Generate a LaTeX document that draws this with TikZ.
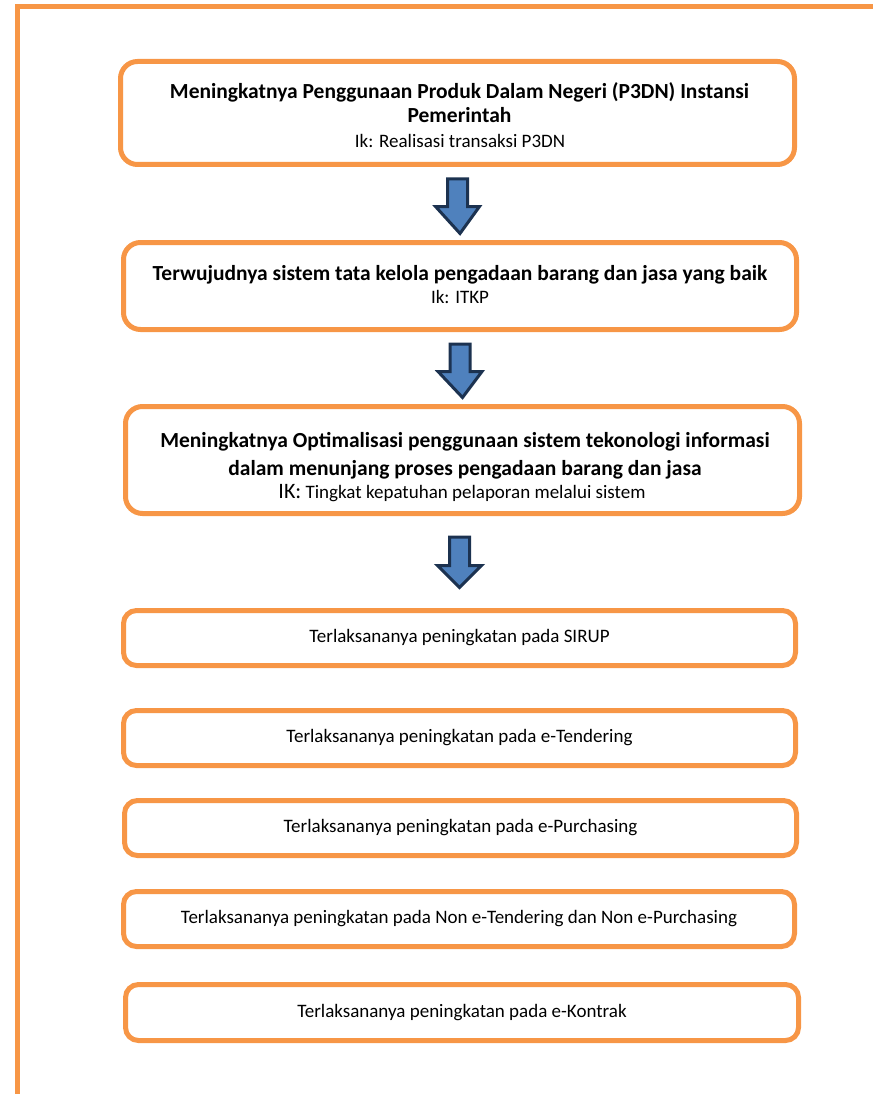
\documentclass[tikz,border=0pt]{standalone}
\usepackage{fontspec}
\setmainfont{Carlito}
\usetikzlibrary{calc}
\definecolor{org}{RGB}{247,150,70}
\definecolor{arrfill}{RGB}{79,129,189}
\definecolor{arrline}{RGB}{28,50,80}
\tikzset{
  box/.style={draw=org, line width=5pt, rounded corners=17pt, outer sep=0pt, inner sep=0pt, fill=white},
  sbox/.style={box, rounded corners=13pt},
  ttl/.style={font=\fontsize{21.5}{24}\selectfont\bfseries, align=center, inner sep=0pt, text=black},
  ik/.style={font=\fontsize{19}{22}\selectfont, inner sep=0pt, text=black},
  stxt/.style={font=\fontsize{19}{22}\selectfont, inner sep=0pt, text=black},
  blockarrow/.style={draw=arrline, fill=arrfill, line width=3pt, line join=miter},
}
\newcommand{\downblock}[2]{%
  \draw[blockarrow] ($(#1.south)+(-10,14.5)$) -- ($(#1.south)+(10,14.5)$) --
    ($(#1.south)+(10,42)$) -- ($(#1.south)+(22,42)$) -- ($(#2.north)+(0,-9)$) --
    ($(#1.south)+(-22,42)$) -- ($(#1.south)+(-10,42)$) -- cycle;}
\begin{document}
\begin{tikzpicture}[x=1pt,y=-1pt]
\useasboundingbox (0,0) rectangle (873,1094);
% outer frame
\draw[org, line width=5pt] (17.5,1094) -- (17.5,7) -- (873,7);
% boxes
\node[box, minimum width=674pt, minimum height=103pt] (b1) at (457.5,113) {};
\node[box, minimum width=673pt, minimum height=87pt] (b2) at (460,286) {};
\node[box, minimum width=674pt, minimum height=107pt] (b3) at (462.5,460) {};
\node[sbox, minimum width=672pt, minimum height=55pt] (b4) at (459.5,638) {};
\node[sbox, minimum width=672pt, minimum height=55pt] (b5) at (459.5,738) {};
\node[sbox, minimum width=672pt, minimum height=55pt] (b6) at (460.5,828) {};
\node[sbox, minimum width=671pt, minimum height=55pt] (b7) at (459,919) {};
\node[sbox, minimum width=673pt, minimum height=56pt] (b8) at (462,1012.5) {};
% texts
\node[ttl, anchor=base] (t1) at (459.5,123) {Meningkatnya Penggunaan Produk Dalam Negeri (P3DN) Instansi\\Pemerintah};
\node[ik, anchor=base] (i1) at (460,148) {Ik: Realisasi transaksi P3DN};
\node[ttl, anchor=base] (t2) at (460,280) {Terwujudnya sistem tata kelola pengadaan barang dan jasa yang baik};
\node[ik, anchor=base] (i2) at (460,303) {Ik: ITKP};
\node[ttl, anchor=base, font=\fontsize{21.5}{28}\selectfont\bfseries] (t3) at (465,475) {Meningkatnya Optimalisasi penggunaan sistem tekonologi informasi\\dalam menunjang proses pengadaan barang dan jasa};
\node[ik, anchor=base] (i3) at (462,498) {{\fontsize{22}{24}\selectfont IK:} Tingkat kepatuhan pelaporan melalui sistem};
\node[stxt] (s4) at (b4.center) {Terlaksananya peningkatan pada SIRUP};
\node[stxt] (s5) at (b5.center) {Terlaksananya peningkatan pada e-Tendering};
\node[stxt] (s6) at (b6.center) {Terlaksananya peningkatan pada e-Purchasing};
\node[stxt] (s7) at (b7.center) {Terlaksananya peningkatan pada Non e-Tendering dan Non e-Purchasing};
\node[stxt] (s8) at (b8.center) {Terlaksananya peningkatan pada e-Kontrak};
% arrows
\downblock{b1}{b2}
\downblock{b2}{b3}
\draw[blockarrow] ($(b3.south)+(-3-10,23.5)$) -- ($(b3.south)+(-3+10,23.5)$) --
    ($(b3.south)+(-3+10,52)$) -- ($(b3.south)+(-3+22,52)$) -- ($(b3.south)+(-3,74)$) --
    ($(b3.south)+(-3-22,52)$) -- ($(b3.south)+(-3-10,52)$) -- cycle;
\end{tikzpicture}
\end{document}
